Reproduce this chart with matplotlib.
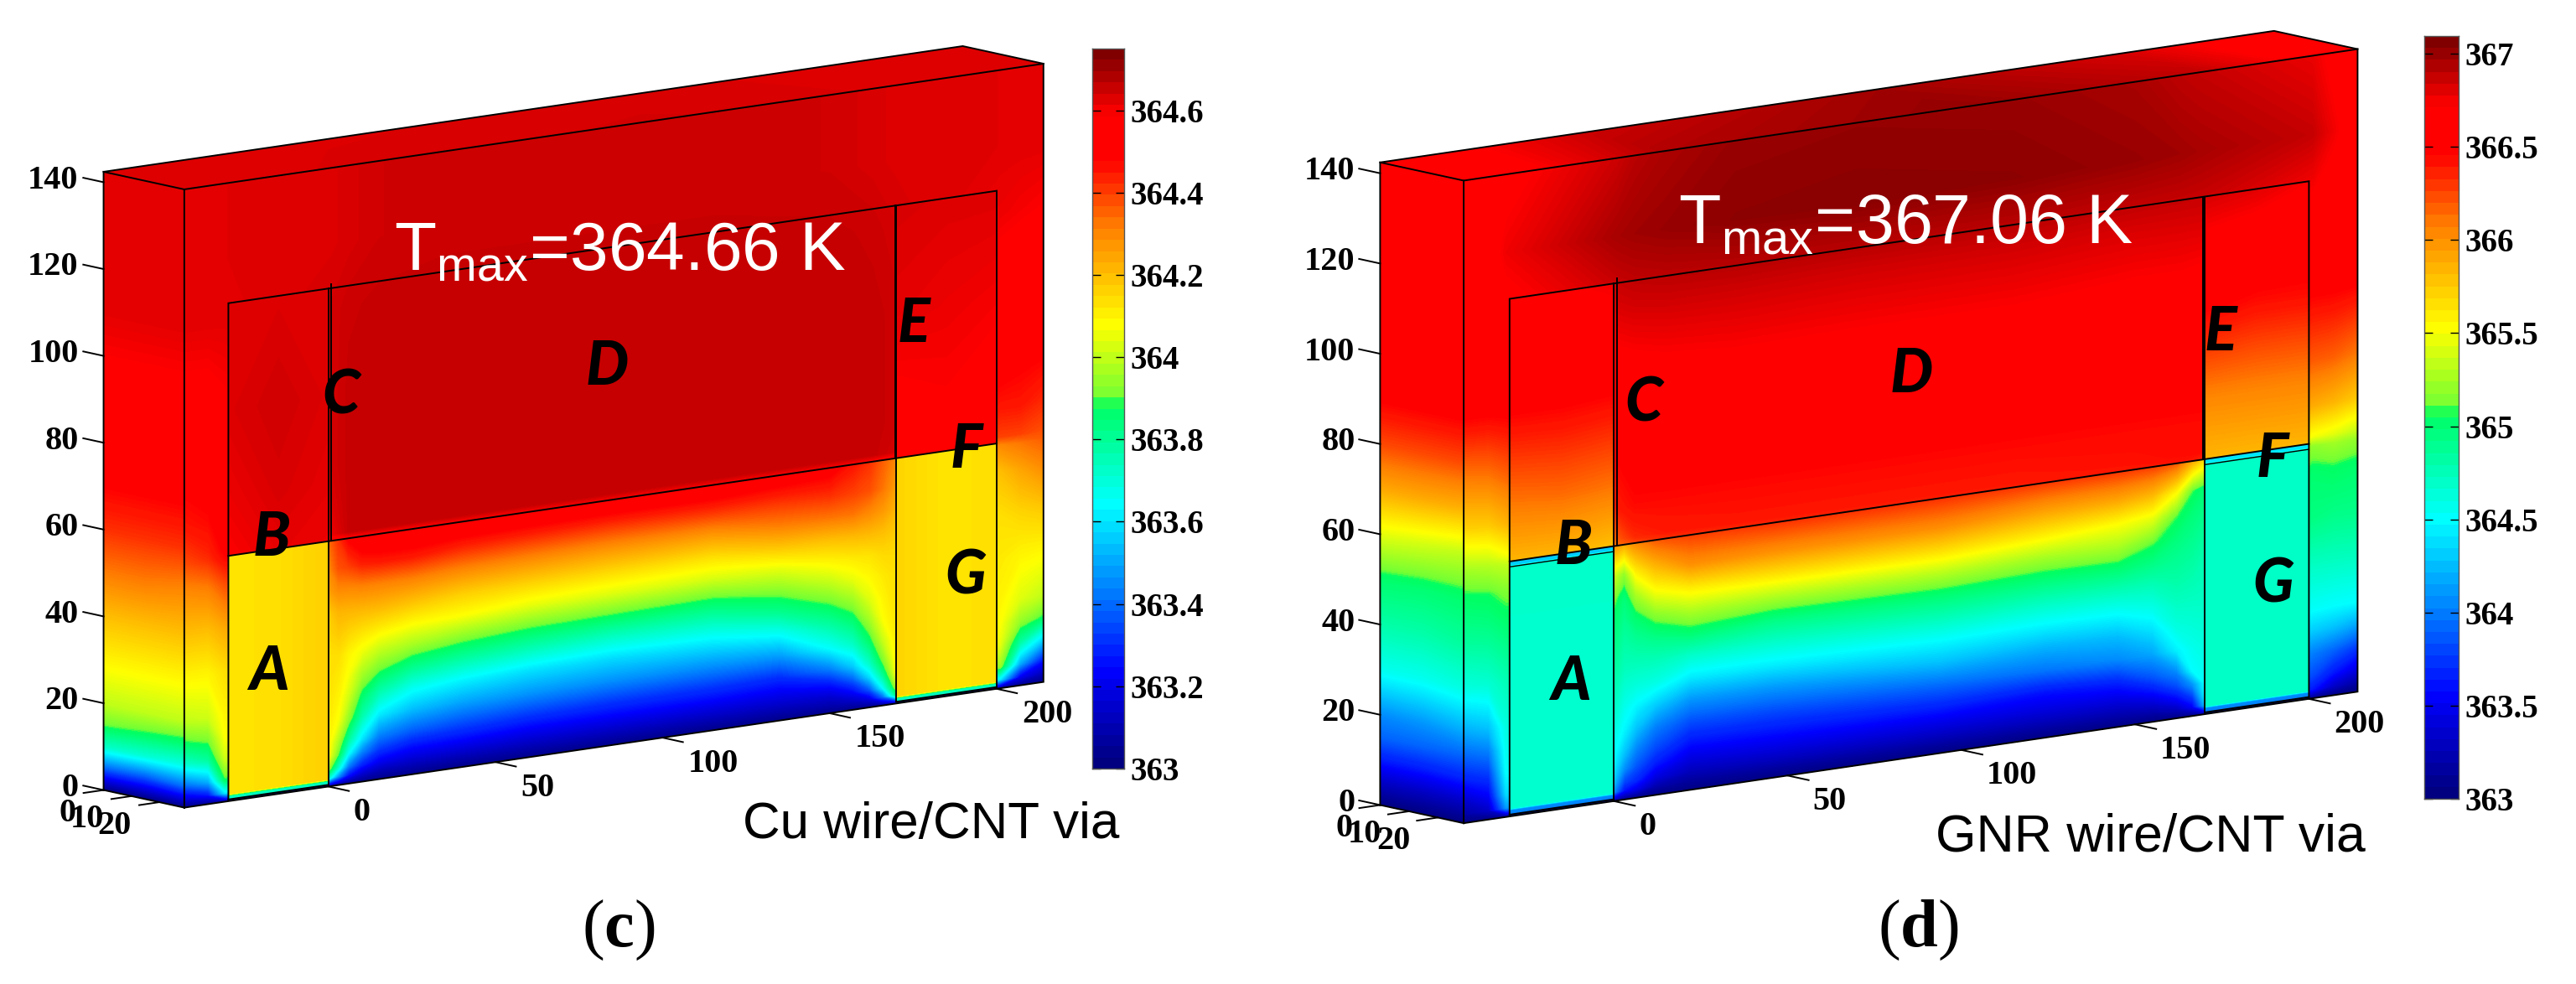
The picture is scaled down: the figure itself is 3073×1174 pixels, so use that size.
import numpy as np
import matplotlib
matplotlib.use('Agg')
import matplotlib.pyplot as plt
from matplotlib.colors import LinearSegmentedColormap
from matplotlib.transforms import Affine2D

plt.rcParams['font.family'] = ['Liberation Sans', 'DejaVu Sans']
plt.rcParams['mathtext.fontset'] = 'custom'
plt.rcParams['mathtext.rm'] = 'Liberation Sans'
plt.rcParams['mathtext.bf'] = 'Liberation Serif:bold'

W_PX = 3073
H_PX = 1174

#########################################################################
# Axis ticks and node positions of the temperature tables
#########################################################################
z_ticks = [0, 20, 40, 60, 80, 100, 120, 140]
x_ticks = [0, 50, 100, 150, 200]
depth_ticks = [0, 10, 20]

x_left = -43.2
x_right = 214
depth_max = 29
z_max = 142.4

x_nodes = [-44, -36, -31, 1, 6, 15, 35, 70, 115, 150, 163, 169, 201, 207, 214]
z_nodes = [0, 2, 5, 10, 15, 20, 30, 40, 50, 56, 58, 65, 75, 90, 110, 125, 142.4]
z_side = [0, 5, 10, 15, 20, 30, 40, 50, 60, 70, 80, 90, 110, 142.4]
depth_nodes = [0, 15, 29]
x_top = [-44, 15, 100, 170, 214]
depth_top = [0, 29]
via_left_x = [-30, -15, 0]
via_right_x = [170, 185, 200]
rect_z = [56.5, 70, 90, 114.7]
z_gap = [0, 2, 4, 7, 10, 15, 20, 25, 30, 35, 40, 45, 50, 56.5]

#########################################################################
# Panel (c): temperatures
#########################################################################
T_front_c = [
   [363.02]*15,
   [363.15, 363.25, 363.60, 363.60, 363.20, 363.10, 363.08, 363.06, 363.05, 363.06, 363.10, 363.55, 363.60, 363.20, 363.10],
   [363.38, 363.50, 363.88, 363.88, 363.50, 363.28, 363.18, 363.12, 363.10, 363.14, 363.30, 363.85, 363.95, 363.50, 363.25],
   [363.70, 363.78, 364.02, 364.05, 363.80, 363.55, 363.36, 363.26, 363.22, 363.28, 363.58, 364.05, 364.05, 363.78, 363.58],
   [363.88, 363.92, 364.08, 364.10, 363.96, 363.76, 363.55, 363.42, 363.38, 363.46, 363.80, 364.10, 364.08, 363.95, 363.88],
   [364.00, 364.02, 364.10, 364.12, 364.05, 363.90, 363.72, 363.60, 363.56, 363.65, 363.95, 364.13, 364.10, 364.04, 364.00],
   [364.10, 364.10, 364.14, 364.16, 364.12, 364.03, 363.92, 363.88, 363.84, 363.90, 364.08, 364.20, 364.12, 364.10, 364.09],
   [364.20, 364.20, 364.24, 364.26, 364.22, 364.16, 364.10, 364.10, 364.08, 364.12, 364.22, 364.32, 364.14, 364.16, 364.18],
   [364.30, 364.32, 364.38, 364.42, 364.40, 364.36, 364.36, 364.40, 364.42, 364.42, 364.44, 364.48, 364.20, 364.25, 364.30],
   [364.38, 364.42, 364.48, 364.54, 364.56, 364.56, 364.57, 364.58, 364.58, 364.58, 364.56, 364.54, 364.30, 364.33, 364.36],
   [364.40, 364.44, 364.50, 364.62, 364.665, 364.665, 364.665, 364.665, 364.665, 364.665, 364.665, 364.65, 364.40, 364.40, 364.38],
   [364.46, 364.48, 364.54, 364.64, 364.665, 364.665, 364.665, 364.665, 364.665, 364.665, 364.665, 364.66, 364.46, 364.46, 364.43],
   [364.50, 364.52, 364.57, 364.65, 364.665, 364.665, 364.665, 364.665, 364.665, 364.665, 364.665, 364.66, 364.52, 364.50, 364.49],
   [364.57, 364.57, 364.59, 364.65, 364.665, 364.665, 364.665, 364.665, 364.665, 364.665, 364.665, 364.66, 364.56, 364.55, 364.54],
   [364.63, 364.63, 364.63, 364.65, 364.66, 364.665, 364.665, 364.665, 364.665, 364.665, 364.66, 364.65, 364.62, 364.61, 364.60],
   [364.635, 364.635, 364.635, 364.64, 364.645, 364.655, 364.66, 364.66, 364.66, 364.655, 364.645, 364.64, 364.635, 364.635, 364.635],
   [364.635, 364.635, 364.635, 364.64, 364.645, 364.655, 364.66, 364.66, 364.66, 364.655, 364.645, 364.64, 364.635, 364.635, 364.635],
]
T_side_c = [
   [363.00, 363.00, 363.00], [363.38, 363.36, 363.40], [363.72, 363.70, 363.68], [363.90, 363.88, 363.86],
   [364.00, 364.00, 364.00], [364.10, 364.10, 364.10], [364.20, 364.20, 364.20], [364.32, 364.32, 364.30],
   [364.42, 364.42, 364.42], [364.49, 364.49, 364.49], [364.52, 364.52, 364.52], [364.57, 364.57, 364.57],
   [364.63, 364.63, 364.63], [364.635, 364.635, 364.635],
]
T_top_c = [[364.635, 364.64, 364.645, 364.64, 364.635], [364.635, 364.645, 364.65, 364.64, 364.635]]

# Space between the two vias, one list per column, bottom to top
x_gap_c = [0, 3, 6, 10, 15, 25, 40, 60, 85, 115, 135, 150, 157, 162, 166, 170]
T_gap_c = [
   [363.05, 363.72, 363.95, 364.08, 364.10, 364.12, 364.13, 364.14, 364.14, 364.16, 364.18, 364.26, 364.30, 364.34],
   [363.02, 363.45, 363.70, 363.89, 363.97, 364.07, 364.10, 364.12, 364.14, 364.18, 364.22, 364.30, 364.38, 364.42],
   [363.02, 363.25, 363.42, 363.64, 363.78, 363.94, 364.02, 364.07, 364.10, 364.16, 364.22, 364.30, 364.40, 364.50],
   [363.02, 363.15, 363.28, 363.44, 363.60, 363.76, 363.87, 363.97, 364.06, 364.14, 364.22, 364.31, 364.44, 364.55],
   [363.02, 363.10, 363.20, 363.32, 363.43, 363.61, 363.76, 363.90, 364.01, 364.12, 364.22, 364.31, 364.45, 364.56],
   [363.02, 363.09, 363.16, 363.26, 363.37, 363.53, 363.66, 363.82, 363.97, 364.09, 364.20, 364.31, 364.45, 364.57],
   [363.02, 363.08, 363.15, 363.25, 363.34, 363.49, 363.62, 363.78, 363.93, 364.08, 364.17, 364.29, 364.42, 364.57],
   [363.02, 363.08, 363.14, 363.23, 363.32, 363.47, 363.59, 363.75, 363.90, 364.05, 364.16, 364.28, 364.41, 364.57],
   [363.02, 363.08, 363.14, 363.23, 363.31, 363.46, 363.58, 363.73, 363.89, 364.04, 364.15, 364.27, 364.40, 364.57],
   [363.02, 363.08, 363.14, 363.23, 363.31, 363.46, 363.60, 363.74, 363.88, 364.03, 364.14, 364.27, 364.41, 364.57],
   [363.02, 363.08, 363.14, 363.22, 363.30, 363.48, 363.65, 363.81, 363.93, 364.05, 364.19, 364.32, 364.41, 364.54],
   [363.02, 363.09, 363.15, 363.27, 363.42, 363.64, 363.77, 363.89, 364.00, 364.10, 364.20, 364.33, 364.42, 364.52],
   [363.02, 363.12, 363.22, 363.38, 363.55, 363.72, 363.84, 363.95, 364.05, 364.12, 364.21, 364.33, 364.40, 364.46],
   [363.02, 363.18, 363.36, 363.58, 363.72, 363.86, 363.96, 364.04, 364.09, 364.13, 364.21, 364.30, 364.38, 364.42],
   [363.02, 363.40, 363.64, 363.80, 363.91, 364.01, 364.08, 364.10, 364.12, 364.15, 364.20, 364.27, 364.33, 364.36],
   [363.05, 363.84, 363.98, 364.08, 364.10, 364.12, 364.13, 364.14, 364.14, 364.15, 364.18, 364.22, 364.26, 364.30],
]

via_z_c = [0.4, 1.2, 1.7, 56.5]
T_via_left_c = [[363.70]*3, [363.75]*3, [364.13, 364.14, 364.17], [364.13, 364.14, 364.17]]
T_via_right_c = [[363.70]*3, [363.75]*3, [364.16, 364.13, 364.14], [364.16, 364.13, 364.14]]
T_rect_left_c = [[364.60, 364.63, 364.62], [364.62, 364.645, 364.63], [364.64, 364.655, 364.64], [364.64, 364.64, 364.64]]
T_rect_right_c = [[364.55, 364.56, 364.54], [364.59, 364.60, 364.58], [364.63, 364.62, 364.61], [364.645, 364.64, 364.64]]

cbar_ticks_c = [363, 363.2, 363.4, 363.6, 363.8, 364, 364.2, 364.4, 364.6]
cbar_labels_c = ['363', '363.2', '363.4', '363.6', '363.8', '364', '364.2', '364.4', '364.6']
letter_x_c = [-17.8, -17.0, 3.7, 83.3, 175.2, 191.0, 190.6]
letter_z_c = [28.3, 59.1, 89.4, 87.2, 86.6, 55.9, 26.9]

#########################################################################
# Panel (d): temperatures
#########################################################################
T_front_d = [
   [363.02]*15,
   [363.15, 363.30, 364.10, 364.20, 363.40, 363.15, 363.10, 363.08, 363.06, 363.08, 363.15, 364.20, 363.60, 363.30, 363.15],
   [363.30, 363.50, 364.35, 364.55, 363.80, 363.35, 363.22, 363.18, 363.15, 363.20, 363.85, 364.55, 363.80, 363.60, 363.40],
   [363.65, 363.75, 364.50, 364.62, 364.05, 363.62, 363.50, 363.45, 363.42, 363.75, 364.20, 364.62, 364.00, 363.90, 363.75],
   [363.90, 364.00, 364.55, 364.66, 364.30, 363.95, 363.82, 363.78, 363.75, 364.15, 364.42, 364.66, 364.30, 364.25, 364.15],
   [364.15, 364.25, 364.60, 364.70, 364.50, 364.22, 364.12, 364.10, 364.10, 364.50, 364.62, 364.72, 364.52, 364.50, 364.49],
   [364.60, 364.65, 364.75, 364.82, 364.85, 364.82, 364.82, 364.85, 364.90, 365.10, 365.00, 364.85, 364.72, 364.72, 364.72],
   [364.85, 364.88, 364.95, 365.05, 365.20, 365.38, 365.42, 365.46, 365.50, 365.65, 365.50, 365.05, 364.95, 364.92, 364.92],
   [365.05, 365.08, 365.15, 365.60, 365.85, 366.00, 366.05, 366.10, 366.12, 366.22, 366.20, 365.60, 365.02, 365.05, 365.02],
   [365.25, 365.30, 365.35, 366.10, 366.22, 366.30, 366.32, 366.35, 366.36, 366.40, 366.42, 366.30, 365.20, 365.25, 365.20],
   [365.35, 365.40, 365.50, 366.20, 366.35, 366.40, 366.42, 366.42, 366.42, 366.44, 366.45, 366.45, 365.50, 365.45, 365.35],
   [365.72, 365.75, 365.85, 366.40, 366.46, 366.46, 366.46, 366.46, 366.46, 366.46, 366.46, 366.46, 365.90, 365.85, 365.75],
   [366.05, 366.08, 366.15, 366.48, 366.54, 366.55, 366.55, 366.55, 366.55, 366.55, 366.55, 366.55, 366.20, 366.18, 366.10],
   [366.50, 366.50, 366.52, 366.62, 366.64, 366.66, 366.68, 366.68, 366.68, 366.66, 366.66, 366.64, 366.50, 366.50, 366.48],
   [366.60, 366.62, 366.68, 366.85, 366.87, 366.88, 366.88, 366.87, 366.87, 366.85, 366.85, 366.85, 366.72, 366.66, 366.60],
   [366.62, 366.68, 366.78, 366.98, 367.00, 367.02, 367.05, 367.06, 367.05, 367.02, 367.00, 366.98, 366.90, 366.78, 366.65],
   [366.60, 366.62, 366.70, 366.88, 366.93, 366.97, 367.02, 367.03, 367.02, 366.98, 366.92, 366.90, 366.80, 366.70, 366.60],
]
T_side_d = [
   [363.00, 363.00, 363.00], [363.28, 363.28, 363.30], [363.62, 363.62, 363.65], [363.90, 363.90, 363.90],
   [364.05, 364.08, 364.15], [364.55, 364.55, 364.60], [364.80, 364.80, 364.85], [365.02, 365.00, 365.02],
   [365.45, 365.40, 365.35], [365.90, 365.90, 365.88], [366.25, 366.25, 366.25], [366.50, 366.50, 366.50],
   [366.60, 366.60, 366.60], [366.60, 366.60, 366.60],
]
T_top_d = [[366.60, 366.88, 367.00, 366.85, 366.60], [366.60, 366.95, 367.03, 366.90, 366.60]]

x_gap_d = [0, 3, 6.4, 12, 22, 46, 94, 124, 145, 155, 162, 166.5, 170]
T_gap_d = [
   [363.10, 364.05, 364.25, 364.40, 364.49, 364.60, 364.70, 364.78, 364.86, 364.94, 365.02, 365.15, 365.38, 366.00],
   [363.02, 363.58, 363.80, 364.07, 364.25, 364.45, 364.55, 364.65, 364.75, 364.82, 364.90, 364.98, 365.20, 365.90],
   [363.02, 363.45, 363.68, 363.85, 363.99, 364.25, 364.45, 364.62, 364.75, 364.87, 365.02, 365.27, 365.59, 366.05],
   [363.02, 363.20, 363.40, 363.62, 363.78, 364.00, 364.30, 364.59, 364.75, 364.93, 365.18, 365.50, 365.80, 366.20],
   [363.02, 363.12, 363.24, 363.40, 363.56, 363.81, 364.09, 364.42, 364.69, 365.02, 365.30, 365.62, 366.01, 366.28],
   [363.02, 363.13, 363.26, 363.43, 363.58, 363.82, 364.10, 364.43, 364.68, 364.94, 365.28, 365.65, 366.00, 366.32],
   [363.02, 363.14, 363.27, 363.45, 363.63, 363.92, 364.25, 364.49, 364.75, 365.00, 365.32, 365.68, 366.02, 366.32],
   [363.02, 363.14, 363.27, 363.44, 363.58, 363.97, 364.20, 364.47, 364.72, 364.98, 365.26, 365.60, 365.92, 366.30],
   [363.02, 363.15, 363.28, 363.47, 363.66, 364.05, 364.24, 364.49, 364.74, 365.00, 365.28, 365.53, 365.90, 366.30],
   [363.02, 363.18, 363.34, 363.60, 363.85, 364.15, 364.37, 364.57, 364.74, 364.93, 365.12, 365.45, 365.82, 366.28],
   [363.02, 363.27, 363.50, 363.80, 364.02, 364.44, 364.60, 364.70, 364.80, 364.88, 364.97, 365.10, 365.53, 366.20],
   [363.02, 363.50, 363.73, 364.08, 364.49, 364.56, 364.63, 364.70, 364.77, 364.84, 364.91, 364.98, 365.10, 365.90],
   [363.10, 364.20, 364.40, 364.50, 364.55, 364.60, 364.65, 364.70, 364.74, 364.78, 364.85, 364.92, 365.00, 365.70],
]

via_z_d = [0.4, 1.4, 1.8, 55.3, 55.6, 56.5]
T_via_left_d = [[364.00]*3, [364.05]*3, [364.66]*3, [364.68]*3, [364.30]*3, [364.30]*3]
T_via_right_d = [[364.00]*3, [364.05]*3, [364.70]*3, [364.70]*3, [364.40]*3, [364.40]*3]
T_rect_left_d = [[365.85, 365.85, 365.80], [366.12, 366.15, 366.12], [366.50, 366.50, 366.48], [366.68, 366.72, 366.78]]
T_rect_right_d = [[365.85, 365.85, 365.85], [366.05, 366.05, 366.05], [366.50, 366.45, 366.45], [366.85, 366.82, 366.75]]

cbar_ticks_d = [363, 363.5, 364, 364.5, 365, 365.5, 366, 366.5, 367]
cbar_labels_d = ['363', '363.5', '364', '364.5', '365', '365.5', '366', '366.5', '367']
letter_x_d = [-12.3, -11.6, 8.5, 85.6, 174.5, 189.5, 189.7]
letter_z_d = [27.6, 57.6, 87.0, 84.7, 84.0, 54.1, 26.3]

letters = ['A', 'B', 'C', 'D', 'E', 'F', 'G']

#########################################################################
# Colormap: jet-like with the green step seen on the colorbars
#########################################################################
cmap_stops = [
   (0.00, (0.00, 0.00, 0.50)), (0.13, (0.00, 0.00, 1.00)), (0.23, (0.00, 0.44, 1.00)),
   (0.365, (0.00, 1.00, 1.00)), (0.505, (0.00, 1.00, 0.38)), (0.515, (0.45, 1.00, 0.20)),
   (0.618, (1.00, 1.00, 0.00)), (0.755, (1.00, 0.50, 0.00)), (0.85, (1.00, 0.00, 0.00)),
   (0.915, (1.00, 0.00, 0.00)), (1.00, (0.50, 0.00, 0.00)),
]
heat_cmap = LinearSegmentedColormap.from_list('heat', cmap_stops, N=256)

fig = plt.figure(figsize=(W_PX/100, H_PX/100), dpi=100)
ax = fig.add_axes([0, 0, 1, 1])
ax.set_xlim(0, W_PX)
ax.set_ylim(H_PX, 0)
ax.axis('off')
ax.set_autoscale_on(False)


def AddColorbar(left, right, top, bottom, vmin, vmax, ticks, labels):
   cax = fig.add_axes([left/W_PX, 1 - bottom/H_PX, (right - left)/W_PX, (bottom - top)/H_PX])
   edges = np.linspace(vmin, vmax, 65)
   cax.pcolormesh([0, 1], edges, ((edges[:-1] + edges[1:])/2).reshape(-1, 1), cmap=heat_cmap.resampled(64), vmin=vmin, vmax=vmax)
   cax.set_xticks([])
   cax.set_yticks(ticks)
   cax.set_yticklabels(labels, family='Liberation Serif', fontweight='bold', fontsize=28)
   cax.tick_params(axis='y', left=True, right=True, labelleft=False, labelright=True, direction='in', length=7, width=1, pad=5)
   for spine in cax.spines.values():
      spine.set_color('#555555')
      spine.set_linewidth(1.0)


def DrawPanel(origin, ex, ey, ez, vmin, vmax, T_front, T_side, T_top, x_gap, T_gap, via_z, T_via_left, T_via_right, T_rect_left, T_rect_right, letter_x, letter_z, double_gap):
   ox, oy = origin
   # Each face gets its own affine map from plot units to the picture
   front_tf = Affine2D(matrix=[[ex[0], ez[0], ox + depth_max*ey[0]], [ex[1], ez[1], oy + depth_max*ey[1]], [0, 0, 1]]) + ax.transData
   side_tf = Affine2D(matrix=[[ey[0], ez[0], ox + x_left*ex[0]], [ey[1], ez[1], oy + x_left*ex[1]], [0, 0, 1]]) + ax.transData
   top_tf = Affine2D(matrix=[[ex[0], ey[0], ox + z_max*ez[0]], [ex[1], ey[1], oy + z_max*ez[1]], [0, 0, 1]]) + ax.transData
   floor_tf = Affine2D(matrix=[[ex[0], ey[0], ox], [ex[1], ey[1], oy], [0, 0, 1]]) + ax.transData

   levels = np.linspace(vmin, vmax, 260)
   style = dict(levels=levels, cmap=heat_cmap, vmin=vmin, vmax=vmax, extend='both')
   face_clip = plt.Polygon([(x_left, 0), (x_right, 0), (x_right, z_max), (x_left, z_max)], transform=front_tf, fill=False, lw=0)
   ax.add_patch(face_clip)
   ax.contourf(x_nodes, z_nodes, T_front, transform=front_tf, clip_path=face_clip, **style)
   ax.contourf(depth_nodes, z_side, T_side, transform=side_tf, **style)
   top_clip = plt.Polygon([(x_left, 0), (x_right, 0), (x_right, depth_max), (x_left, depth_max)], transform=top_tf, fill=False, lw=0)
   ax.add_patch(top_clip)
   ax.contourf(x_top, depth_top, T_top, transform=top_tf, clip_path=top_clip, **style)
   ax.contourf(x_gap, z_gap, np.transpose(T_gap), transform=front_tf, **style)
   ax.contourf(via_left_x, via_z, T_via_left, transform=front_tf, **style)
   ax.contourf(via_right_x, via_z, T_via_right, transform=front_tf, **style)
   ax.contourf(via_left_x, rect_z, T_rect_left, transform=front_tf, **style)
   ax.contourf(via_right_x, rect_z, T_rect_right, transform=front_tf, **style)

   # Box edges
   line = dict(color='black', lw=1.4, solid_joinstyle='miter')
   ax.plot([x_left, x_right, x_right, x_left, x_left], [0, 0, z_max, z_max, 0], transform=front_tf, **line)
   ax.plot([0, 0, depth_max], [0, z_max, z_max], transform=side_tf, **line)
   ax.plot([x_left, x_right, x_right], [0, 0, depth_max], transform=top_tf, **line)
   ax.plot([0, depth_max], [0, 0], transform=side_tf, **line)

   # Wire and via outlines on the front face
   ax.plot([via_left_x[0], via_left_x[0], via_right_x[-1], via_right_x[-1]], [0.4, rect_z[-1], rect_z[-1], 0.4], transform=front_tf, **line)
   ax.plot([via_left_x[0], via_right_x[-1]], [rect_z[0], rect_z[0]], transform=front_tf, **line)
   ax.plot([via_left_x[0], via_left_x[-1]], [0.4, 0.4], transform=front_tf, **line)
   ax.plot([via_right_x[0], via_right_x[-1]], [0.4, 0.4], transform=front_tf, **line)
   ax.plot([0, 0], [0.4, rect_z[-1]], transform=front_tf, **line)
   ax.plot([170, 170], [0.4, rect_z[-1]], transform=front_tf, **line)
   ax.plot([double_gap, double_gap], [rect_z[0], rect_z[-1] + 1], transform=front_tf, **line)
   ax.plot([170 - double_gap/2, 170 - double_gap/2], [rect_z[0], rect_z[-1]], transform=front_tf, **line)
   if len(via_z) > 4:
      ax.plot([via_left_x[0], via_left_x[-1]], [55.3, 55.3], transform=front_tf, color='black', lw=1.0)
      ax.plot([via_right_x[0], via_right_x[-1]], [55.3, 55.3], transform=front_tf, color='black', lw=1.0)

   # Ticks and tick labels
   tick_font = dict(family='Liberation Serif', fontweight='bold', fontsize=29)
   for z in z_ticks:
      ax.plot([0, -7.3], [z, z], transform=side_tf, color='black', lw=1.4)
      ax.annotate(str(z), xy=(0, z), xycoords=side_tf, xytext=(-30*0.72, 2*0.72), textcoords='offset points', ha='right', va='center', **tick_font)
   for x in x_ticks:
      ax.plot([x, x], [depth_max, depth_max + 7.3], transform=floor_tf, color='black', lw=1.4)
      ax.annotate(str(x), xy=(x, 0), xycoords=front_tf, xytext=(30*0.72, -31*0.72), textcoords='offset points', ha='left', va='center', **tick_font)
   for d in depth_ticks:
      ax.plot([x_left, x_left - 6], [d, d], transform=floor_tf, color='black', lw=1.4)
      ax.annotate(str(d), xy=(d, 0), xycoords=side_tf, xytext=(-33*0.72, -28*0.72), textcoords='offset points', ha='right', va='center', **tick_font)

   for name, lx, lz in zip(letters, letter_x, letter_z):
      ax.text(lx, lz, name, transform=front_tf, family=['Lato', 'Open Sans'], fontweight='black', fontstyle='italic', fontsize=52, ha='center', va='center', color='black')


#########################################################################
# Draw both panels
#########################################################################
DrawPanel((295.7, 917.4), (3.985, -0.583), (3.32, 0.724), (0, -5.18), 363, 364.75,
          T_front_c, T_side_c, T_top_c, x_gap_c, T_gap_c, via_z_c, T_via_left_c, T_via_right_c, T_rect_left_c, T_rect_right_c,
          letter_x_c, letter_z_c, 0.8)
DrawPanel((1825.5, 934.1), (4.146, -0.61), (3.438, 0.748), (0, -5.384), 363, 367.095,
          T_front_d, T_side_d, T_top_d, x_gap_d, T_gap_d, via_z_d, T_via_left_d, T_via_right_d, T_rect_left_d, T_rect_right_d,
          letter_x_d, letter_z_d, 1.0)

AddColorbar(1303, 1341, 58, 917, 363, 364.75, cbar_ticks_c, cbar_labels_c)
AddColorbar(2892, 2933, 43, 953, 363, 367.095, cbar_ticks_d, cbar_labels_d)

ax.text(470, 322, r'T$_{\mathrm{max}}$=364.66 K', color='white', fontsize=59, ha='left', va='baseline')
ax.text(2002, 291, r'T$_{\mathrm{max}}$=367.06 K', color='white', fontsize=59.5, ha='left', va='baseline')
ax.text(886, 1000, 'Cu wire/CNT via', color='black', fontsize=44.6, ha='left', va='baseline')
ax.text(2309, 1016, 'GNR wire/CNT via', color='black', fontsize=45, ha='left', va='baseline')
ax.text(738, 1110, r'($\mathbf{c}$)', family='Liberation Serif', fontsize=58, ha='center', va='center')
ax.text(2288, 1110, r'($\mathbf{d}$)', family='Liberation Serif', fontsize=58, ha='center', va='center')

fig.savefig('out.png', dpi=100)
